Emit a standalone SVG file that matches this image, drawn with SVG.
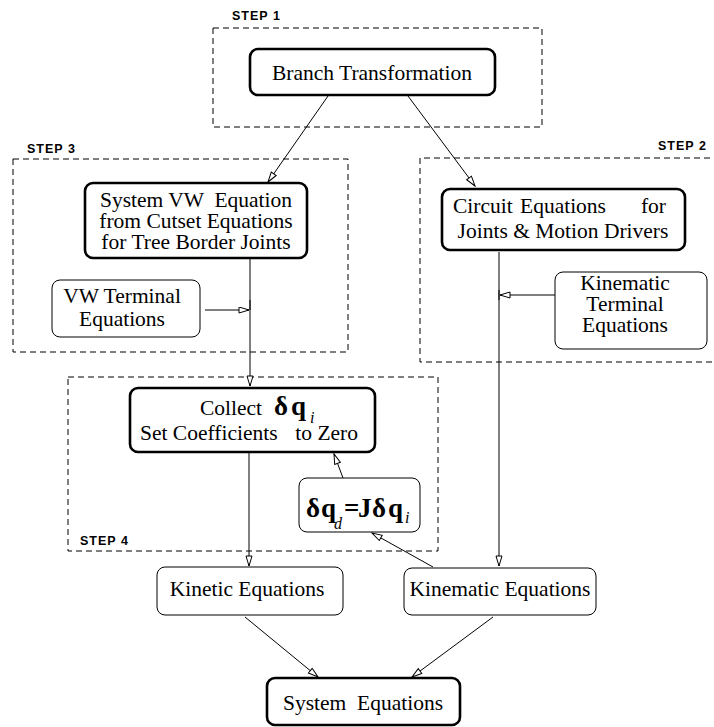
<svg xmlns="http://www.w3.org/2000/svg" width="714" height="727" viewBox="0 0 714 727">
<defs>
<marker id="ah" markerWidth="12" markerHeight="8" refX="11" refY="3.5" orient="auto" markerUnits="userSpaceOnUse">
<path d="M1,0.5 L11,3.5 L1,6.5 z" fill="#fff" stroke="#000" stroke-width="1"/>
</marker>
</defs>
<style>
.step{fill:none;stroke:#000;stroke-width:1;stroke-dasharray:6 4}
.lbl{font-family:'Liberation Sans',Arial,sans-serif;font-weight:bold;font-size:12.5px;letter-spacing:1px;fill:#000}
.thick{fill:#fff;stroke:#000;stroke-width:2.6}
.thin{fill:#fff;stroke:#000;stroke-width:1}
.t{font-size:21.5px;fill:#000}
.m{font-weight:bold;font-size:27px}
.s{font-style:italic;font-weight:normal;font-size:16px}
.c{fill:none;stroke:#000;stroke-width:1;marker-end:url(#ah)}
.ln{fill:none;stroke:#000;stroke-width:1}
</style>
<rect width="714" height="727" fill="#fff"/>
<g id="steps">
<rect class="step" x="213" y="28" width="329" height="99"/>
<text class="lbl" x="232" y="20">STEP 1</text>
<rect class="step" x="13" y="159" width="335" height="193"/>
<text class="lbl" x="27" y="153">STEP 3</text>
<path class="step" d="M720,158 H420 V362 H720"/>
<text class="lbl" x="658" y="150">STEP 2</text>
<rect class="step" x="68" y="377" width="370" height="174"/>
<text class="lbl" x="80" y="545">STEP 4</text>
</g>
<g id="connectors">
<line class="c" x1="328" y1="96" x2="268" y2="182"/>
<line class="c" x1="408" y1="96" x2="475" y2="186"/>
<line class="ln" x1="250" y1="259" x2="250" y2="310"/>
<line class="c" x1="250" y1="300" x2="250" y2="386"/>
<line class="c" x1="205" y1="310" x2="249" y2="310"/>
<line class="ln" x1="499" y1="252" x2="499" y2="300"/>
<line class="c" x1="499" y1="290" x2="499" y2="566"/>
<line class="c" x1="555" y1="295" x2="500" y2="295"/>
<line class="c" x1="249" y1="453" x2="249" y2="566"/>
<line class="c" x1="343" y1="478" x2="334" y2="454"/>
<line class="c" x1="433" y1="567" x2="372" y2="533"/>
<line class="c" x1="245" y1="617" x2="318" y2="677"/>
<line class="c" x1="493" y1="617" x2="412" y2="677"/>
</g>
<g font-family="Liberation Serif, Times New Roman, DejaVu Serif, serif">
<g id="branch">
<rect class="thick" x="250" y="49" width="245" height="46" rx="8"/>
<text class="t" x="372" y="80" text-anchor="middle">Branch Transformation</text>
</g>
<g id="systemvw">
<rect class="thick" x="85" y="183" width="222" height="75" rx="8"/>
<text class="t" x="196" y="207" text-anchor="middle" xml:space="preserve">System VW  Equation</text>
<text class="t" x="196" y="228" text-anchor="middle">from Cutset Equations</text>
<text class="t" x="196" y="249" text-anchor="middle">for Tree Border Joints</text>
</g>
<g id="vwterminal">
<rect class="thin" x="52" y="280" width="148" height="57" rx="8"/>
<text class="t" x="122" y="303" text-anchor="middle">VW Terminal</text>
<text class="t" x="122" y="326" text-anchor="middle">Equations</text>
</g>
<g id="circuit">
<rect class="thick" x="442" y="189" width="243" height="61" rx="8"/>
<text class="t" x="453" y="213">Circuit</text>
<text class="t" x="563" y="213" text-anchor="middle">Equations</text>
<text class="t" x="666" y="213" text-anchor="end">for</text>
<text class="t" x="563" y="238" text-anchor="middle">Joints &amp; Motion Drivers</text>
</g>
<g id="kinterminal">
<rect class="thin" x="555" y="272" width="152" height="77" rx="8"/>
<text class="t" x="625" y="290" text-anchor="middle">Kinematic</text>
<text class="t" x="625" y="311" text-anchor="middle">Terminal</text>
<text class="t" x="625" y="332" text-anchor="middle">Equations</text>
</g>
<g id="collect">
<rect class="thick" x="130" y="388" width="245" height="64" rx="8"/>
<text class="t" x="200" y="415">Collect<tspan class="m" x="274">δ</tspan><tspan class="m" x="291">q</tspan><tspan class="s" x="310" y="423">i</tspan></text>
<text class="t" x="140" y="440">Set Coefficients</text>
<text class="t" x="358" y="440" text-anchor="end">to Zero</text>
</g>
<g id="dq">
<rect class="thin" x="299" y="478" width="121" height="54" rx="8"/>
<text class="t" x="306" y="517"><tspan class="m">δ</tspan><tspan class="m" x="321">q</tspan><tspan class="s" x="334" y="529">d</tspan><tspan class="m" x="344" y="517">=</tspan><tspan class="m" x="358">J</tspan><tspan class="m" x="372">δ</tspan><tspan class="m" x="388">q</tspan><tspan class="s" x="405" y="523">i</tspan></text>
</g>
<g id="kinetic">
<rect class="thin" x="157" y="567" width="186" height="48" rx="8"/>
<text class="t" x="247" y="596" text-anchor="middle">Kinetic Equations</text>
</g>
<g id="kinematic">
<rect class="thin" x="404" y="568" width="192" height="47" rx="8"/>
<text class="t" x="500" y="596" text-anchor="middle">Kinematic Equations</text>
</g>
<g id="system">
<rect class="thick" x="267" y="678" width="193" height="47" rx="8"/>
<text class="t" x="363" y="710" text-anchor="middle" xml:space="preserve">System  Equations</text>
</g>
</g>
</svg>
